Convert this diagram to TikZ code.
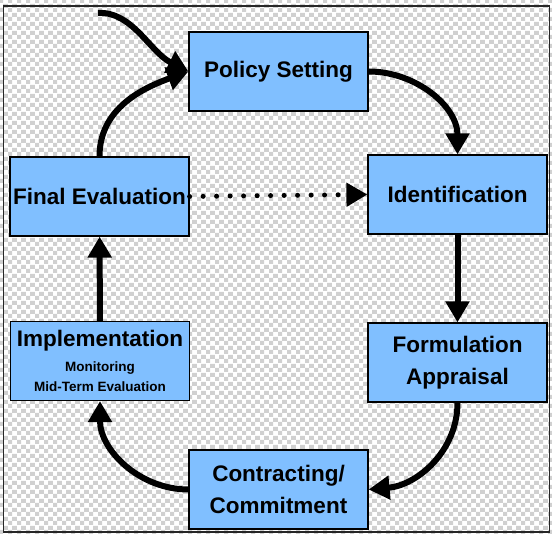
\documentclass[tikz,border=0pt]{standalone}
\usepackage{fontspec}
\setmainfont{Liberation Sans}
\usepackage{tikz}
\usetikzlibrary{arrows.meta}
\usetikzlibrary{patterns}

\definecolor{boxblue}{RGB}{128,191,255}
\definecolor{checkgray}{RGB}{208,208,208}

\pgfdeclarepatterninherentlycolored{checker}{\pgfpointorigin}{\pgfqpoint{9pt}{9pt}}{\pgfqpoint{9pt}{9pt}}{%
  \pgfsetfillcolor{checkgray}
  \pgfpathrectangle{\pgfpointorigin}{\pgfqpoint{4.5pt}{4.5pt}}
  \pgfpathrectangle{\pgfqpoint{4.5pt}{4.5pt}}{\pgfqpoint{4.5pt}{4.5pt}}
  \pgfusepath{fill}
}

\tikzset{
  stage/.style={draw=black, line width=1.2pt, fill=boxblue, minimum width=179pt,
                minimum height=79pt, inner sep=0pt, align=center,
                font=\bfseries\fontsize{22.5}{32}\selectfont},
  flow/.style={line width=6pt, -{Triangle[length=21pt, width=23pt]}},
}

\begin{document}
\begin{tikzpicture}[x=1pt, y=1pt]
              \useasboundingbox (0,0) rectangle (552,534);
              \fill[white] (0,0) rectangle (552,534);
              \fill[pattern=checker] (0,0) rectangle (552,534);
              \draw[line width=1.5pt, black!85] (3.5,2) rectangle (549.5,528);

              \node[stage] (P) at (278.5, 462.5) {Policy Setting};
              \node[stage] (F) at (99.5, 337.5) {Final Evaluation};
              \node[stage] (I) at (457.5, 339.5) {Identification};
              \node[stage] (M) at (100, 173) {Implementation\\[-7pt]
                {\fontsize{13.5}{19}\selectfont Monitoring}\\[-12pt]
                {\fontsize{13.5}{19}\selectfont Mid-Term Evaluation}};
              \node[stage] (A) at (457.5, 171.5) {Formulation\\Appraisal};
              \node[stage] (C) at (278.5, 44.5) {Contracting/\\Commitment};
              \coordinate (S) at (98, 521);

              % cycle
              \draw[flow] (S) .. controls (132,523) and (150,482) .. (P.west);
              \draw[flow] (F.north) to[out=90, in=200] (P.west);
              \draw[flow] (P.east) to[out=0, in=90] (I.north);
              \draw[flow] (I) -- (A);
              \draw[flow] (A.south) to[out=-90, in=5] (C.east);
              \draw[flow] (C.west) to[out=180, in=-90] (M.south);
              \draw[flow] (M) -- (F);
              \draw[line width=5pt, line cap=round, dash pattern=on 0pt off 13.5pt,
                    -{Triangle[length=21pt, width=23pt]}] (F.east) -- (I.west);
            \end{tikzpicture}
\end{document}
